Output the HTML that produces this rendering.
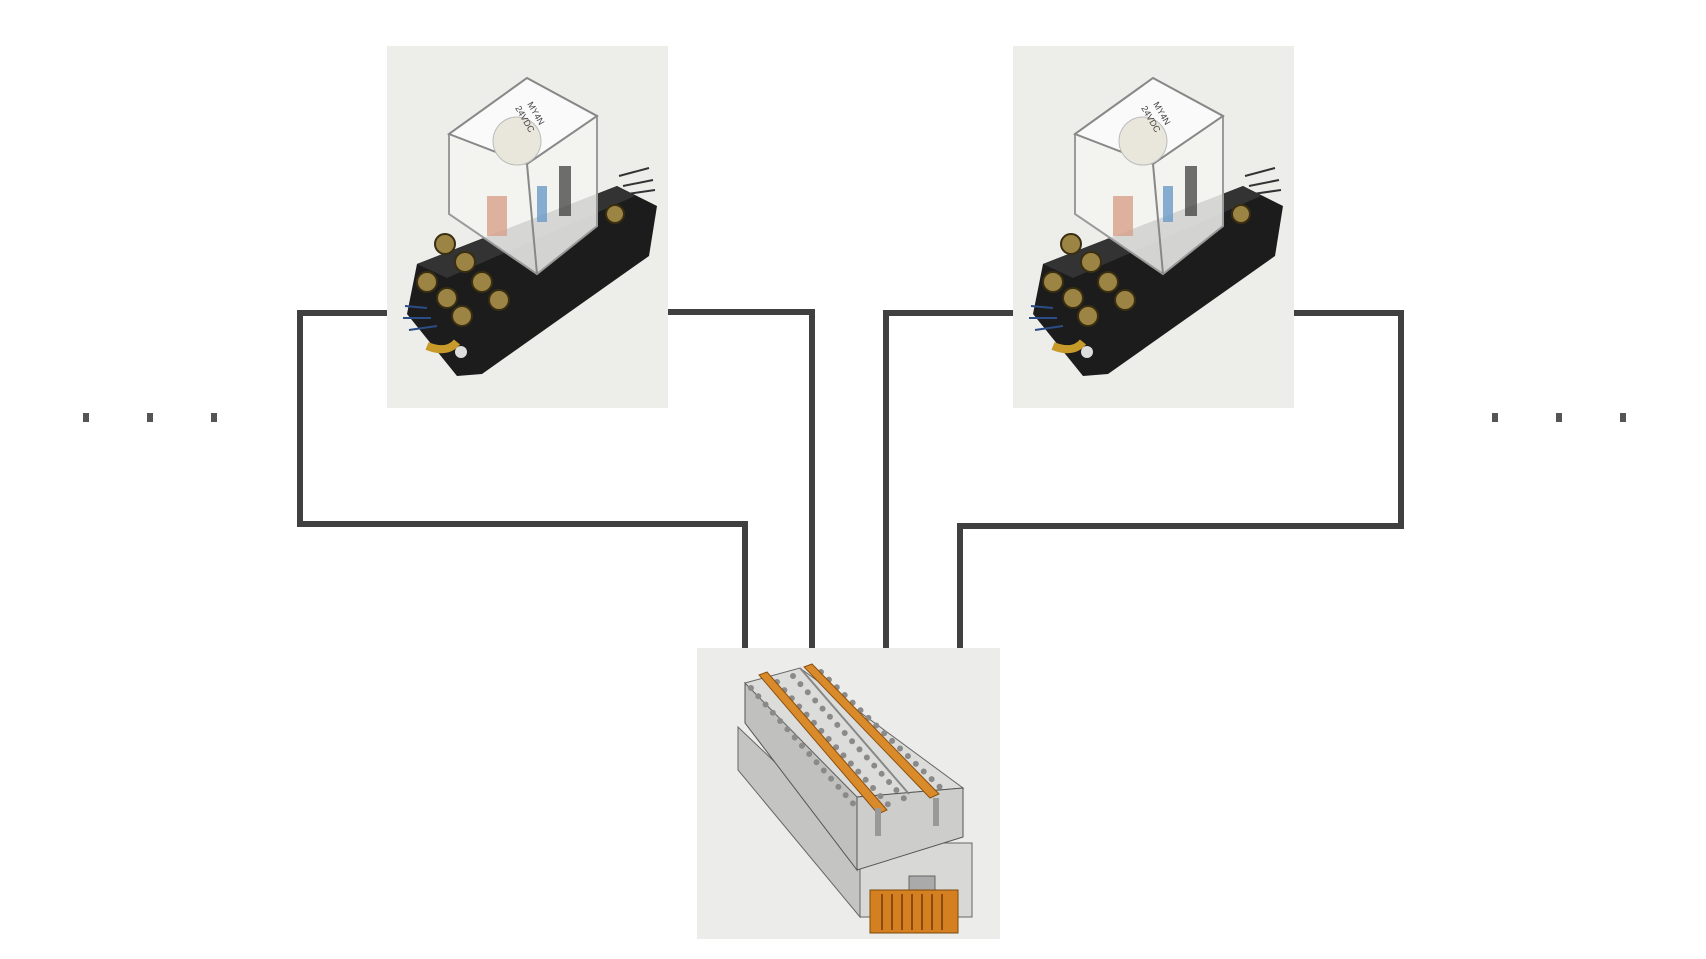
<!DOCTYPE html>
<html><head><meta charset="utf-8"><style>
html,body{margin:0;padding:0;background:#fff;}
svg{display:block}
</style></head><body>
<svg width="1706" height="959" viewBox="0 0 1706 959" xmlns="http://www.w3.org/2000/svg">
<defs>
<g id="relay">
  <rect x="0" y="0" width="281" height="362" fill="#ededea"/>
  <polygon points="30,218 230,140 270,160 262,210 95,328 70,330 20,268" fill="#1c1c1c"/>
  <polygon points="30,218 230,140 248,150 60,232" fill="#333"/>
  <g fill="#9c8444" stroke="#3a2e10" stroke-width="2">
    <circle cx="58" cy="198" r="10"/><circle cx="78" cy="216" r="10"/><circle cx="95" cy="236" r="10"/>
    <circle cx="40" cy="236" r="10"/><circle cx="60" cy="252" r="10"/><circle cx="75" cy="270" r="10"/>
    <circle cx="112" cy="254" r="10"/><circle cx="228" cy="168" r="9"/>
  </g>
  <path d="M18,260 L40,262 M16,272 L44,272 M22,284 L50,280" stroke="#2b4c86" stroke-width="2"/>
  <path d="M40,300 q20,8 30,-4" stroke="#c89a2a" stroke-width="8" fill="none"/>
  <circle cx="74" cy="306" r="6" fill="#ddd"/>
  <path d="M232,130 l30,-8 M236,140 l30,-6 M240,148 l28,-4" stroke="#333" stroke-width="2"/>
  <polygon points="62,88 140,32 210,70 210,180 150,228 62,168" fill="#f3f3f1" fill-opacity="0.85" stroke="#9a9a9a" stroke-width="2"/>
  <polygon points="62,88 140,32 210,70 140,118" fill="#fafafa" stroke="#888" stroke-width="2"/>
  <line x1="140" y1="118" x2="150" y2="228" stroke="#888" stroke-width="2"/>
  <circle cx="130" cy="95" r="24" fill="#e9e6dc" stroke="#bbb"/>
  <rect x="100" y="150" width="20" height="40" fill="#d7a08a" opacity="0.8"/>
  <rect x="150" y="140" width="10" height="36" fill="#6a9ac8" opacity="0.8"/>
  <rect x="172" y="120" width="12" height="50" fill="#333" opacity="0.7"/>
  <text x="140" y="58" font-family="Liberation Sans, sans-serif" font-size="9" fill="#444" transform="rotate(60 140 58)">MY4N</text>
  <text x="128" y="62" font-family="Liberation Sans, sans-serif" font-size="9" fill="#444" transform="rotate(60 128 62)">24VDC</text>
</g>
</defs>
<g fill="none" stroke="#404040" stroke-width="6">
  <polyline points="387,313 300,313 300,524 745,524 745,648"/>
  <polyline points="668,312 812,312 812,648"/>
  <polyline points="1013,313 886,313 886,648"/>
  <polyline points="1294,313 1401,313 1401,526 960,526 960,648"/>
</g>
<g fill="#555">
  <rect x="83" y="413" width="6" height="9"/><rect x="147" y="413" width="6" height="9"/><rect x="211" y="413" width="6" height="9"/>
  <rect x="1492" y="413" width="6" height="9"/><rect x="1556" y="413" width="6" height="9"/><rect x="1620" y="413" width="6" height="9"/>
</g>
<use href="#relay" x="387" y="46"/>
<use href="#relay" x="1013" y="46"/>
<g transform="translate(697,648)">
  <rect x="0" y="0" width="303" height="291" fill="#ececea"/>
  <!-- base -->
  <polygon points="41,79 41,122 163,269 163,195" fill="#c4c4c2" stroke="#666"/>
  <polygon points="163,195 275,195 275,269 163,269" fill="#d8d8d6" stroke="#666"/>
  <!-- body -->
  <polygon points="48,35 48,75 160,222 160,149" fill="#c0c0be" stroke="#555"/>
  <polygon points="48,35 103,20 266,140 160,149" fill="#dcdcda" stroke="#666"/>
  <polygon points="160,149 266,140 266,189 160,222" fill="#cdcdcb" stroke="#555"/>
  <line x1="103" y1="20" x2="212" y2="146" stroke="#888" stroke-width="2"/>
  <!-- holes -->
  <g stroke="#8a8a8a" stroke-width="6" stroke-linecap="round" stroke-dasharray="0 11" fill="none">
    <line x1="54" y1="40" x2="160" y2="160"/>
    <line x1="80" y1="34" x2="196" y2="162"/>
    <line x1="96" y1="28" x2="212" y2="156"/>
    <line x1="124" y1="24" x2="250" y2="146"/>
  </g>
  <polygon points="62,27 70,24 190,162 181,166" fill="#d98a2a" stroke="#8a5010"/>
  <polygon points="107,19 115,16 242,146 233,150" fill="#d98a2a" stroke="#8a5010"/>
  <rect x="178" y="160" width="6" height="28" fill="#999"/>
  <rect x="236" y="150" width="6" height="28" fill="#999"/>
  <rect x="212" y="228" width="26" height="14" fill="#aaa" stroke="#666"/>
  <!-- comb -->
  <rect x="173" y="242" width="88" height="43" fill="#d58020" stroke="#7a4a10"/>
  <g stroke="#8a4a10" stroke-width="2">
    <line x1="185" y1="246" x2="185" y2="282"/><line x1="195" y1="246" x2="195" y2="282"/><line x1="205" y1="246" x2="205" y2="282"/>
    <line x1="215" y1="246" x2="215" y2="282"/><line x1="225" y1="246" x2="225" y2="282"/><line x1="235" y1="246" x2="235" y2="282"/>
    <line x1="245" y1="246" x2="245" y2="282"/>
  </g>
</g>
</svg>
</body></html>
